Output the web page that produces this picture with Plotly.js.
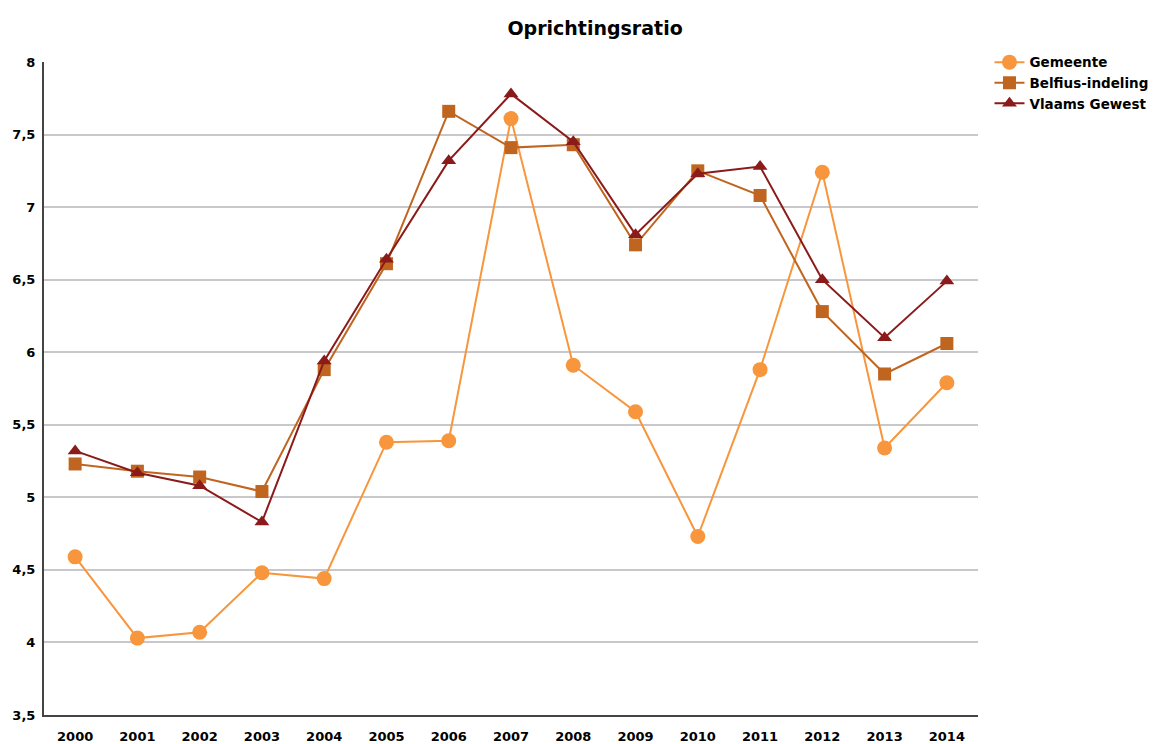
<!DOCTYPE html>
<html>
<head>
<meta charset="utf-8">
<script src="https://cdn.plot.ly/plotly-3.0.1.min.js"></script>
<style>html,body{margin:0;padding:0;background:#fff;}#chart{width:1160px;height:744px;}</style>
</head>
<body>
<div id="chart"></div>
<script>
const years = ['2000','2001','2002','2003','2004','2005','2006','2007','2008','2009','2010','2011','2012','2013','2014'];
const gemeente = [4.59, 4.03, 4.07, 4.48, 4.44, 5.38, 5.39, 7.61, 5.91, 5.59, 4.73, 5.88, 7.24, 5.34, 5.79];
const belfius = [5.23, 5.18, 5.14, 5.04, 5.88, 6.61, 7.66, 7.41, 7.43, 6.74, 7.25, 7.08, 6.28, 5.85, 6.06];
const vlaams = [5.32, 5.17, 5.08, 4.83, 5.94, 6.64, 7.32, 7.78, 7.45, 6.81, 7.23, 7.28, 6.50, 6.10, 6.49];
const seriesNames = ['Gemeente', 'Belfius-indeling', 'Vlaams Gewest'];

const fontFam = '"DejaVu Sans", "Liberation Sans", sans-serif';
const traces = [
  {x: years, y: gemeente, name: seriesNames[0], type: 'scatter', mode: 'lines+markers',
   line: {color: '#F7963C', width: 2}, marker: {symbol: 'circle', size: 15, color: '#F7963C'}},
  {x: years, y: belfius, name: seriesNames[1], type: 'scatter', mode: 'lines+markers',
   line: {color: '#C0651F', width: 2}, marker: {symbol: 'square', size: 13, color: '#C0651F'}},
  {x: years, y: vlaams, name: seriesNames[2], type: 'scatter', mode: 'lines+markers',
   line: {color: '#8B1A1A', width: 2}, marker: {symbol: 'triangle-up', size: 13, color: '#8B1A1A'}}
];

const layout = {
  width: 1160, height: 744,
  paper_bgcolor: '#fff', plot_bgcolor: '#fff',
  separators: ',.',
  margin: {l: 44, r: 182, t: 62, b: 29, autoexpand: false},
  title: {text: '<b>Oprichtingsratio</b>', x: 0.59, xref: 'paper', xanchor: 'center', y: 0.962, yanchor: 'middle',
          font: {family: fontFam, size: 19, color: '#000'}},
  xaxis: {type: 'category', showgrid: false, showline: true, linecolor: '#444', linewidth: 2,
          ticks: '', ticklabelstandoff: 8, tickfont: {family: fontFam, size: 13, color: '#000', weight: 'bold'}, zeroline: false,
          range: [-0.5, 14.5]},
  yaxis: {range: [3.5, 8], dtick: 0.5, tick0: 3.5, showgrid: true, gridcolor: '#C8C8CC', gridwidth: 2,
          showline: true, linecolor: '#444', linewidth: 2, ticks: '', zeroline: false,
          ticklabelstandoff: 4,
          tickfont: {family: fontFam, size: 13, color: '#000', weight: 'bold'}},
  legend: {x: 0.853, xref: 'container', xanchor: 'left', y: 0.937, yref: 'container', yanchor: 'top', bgcolor: 'rgba(0,0,0,0)',
           font: {family: fontFam, size: 13.5, color: '#000', weight: 'bold'}, tracegroupgap: 0, itemwidth: 30},
  showlegend: true
};

Plotly.newPlot('chart', traces, layout, {displayModeBar: false, staticPlot: true});
</script>
</body>
</html>
